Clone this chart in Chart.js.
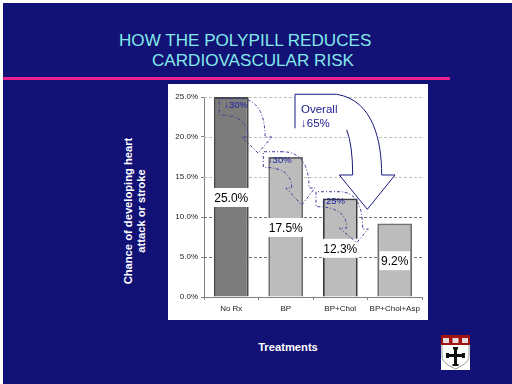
<!DOCTYPE html>
<html>
<head>
<meta charset="utf-8">
<script src="https://cdn.jsdelivr.net/npm/chart.js@4"></script>
<style>
  html, body { margin: 0; padding: 0; background: #fff; overflow: hidden; }
  #slide { position: absolute; left: 3px; top: 3px; width: 509px; height: 381px; background: #121276; }
  .txt { position: absolute; font-family: "Liberation Sans", Arial, sans-serif; white-space: nowrap; }
  .head { color: #84e8ea; font-size: 17.1px; line-height: 20px; }
  .axis { color: #fff; font-weight: bold; font-size: 11.2px; line-height: 13px; text-align: center; }
  #rule { position: absolute; left: 3px; top: 77px; width: 447px; height: 3px; background: #ec2090; }
  #panel { position: absolute; left: 168px; top: 84px; width: 260px; height: 236px; background: #fff; }
  #logo { position: absolute; left: 441px; top: 335px; }
</style>
</head>
<body>
<div id="slide"></div>
<div class="txt head" style="left:119px;top:31px">HOW THE POLYPILL REDUCES</div>
<div class="txt head" style="left:152px;top:51px">CARDIOVASCULAR RISK</div>
<div id="rule"></div>
<div id="panel"><canvas id="grafico" width="260" height="236"></canvas></div>
<div class="txt axis" style="left:135px;top:211px;transform:translate(-50%,-50%) rotate(-90deg)">Chance of developing heart<br>attack or stroke</div>
<div class="txt axis" style="left:288px;top:347px;transform:translate(-50%,-50%)">Treatments</div>
<svg id="logo" width="29" height="35" viewBox="0 0 29 35">
  <rect width="29" height="35" fill="#fff"/>
  <path d="M1 10V21C1 28 9 31 14.5 34C20 31 28 28 28 21V10" fill="none" stroke="#999"/>
  <rect width="29" height="10" fill="#a01414"/>
  <rect x="2" y="3" width="6" height="5" fill="#e6dcdc"/><rect x="11.5" y="3" width="6" height="5" fill="#e6dcdc"/><rect x="21" y="3" width="6" height="5" fill="#e6dcdc"/>
  <path d="M13 14H16V19H21V18H24V23H21V22H16V29H17.500V31H11.500V29H13V22H8V23H5V18H8V19H13Z" fill="#111"/>
  <rect x="12" y="12" width="5" height="2.500" fill="#111"/>
</svg>
<script>
// valores
const categorias = ["No Rx", "BP", "BP+Chol", "BP+Chol+Asp"];
const risco = [25.0, 17.5, 12.3, 9.2];
const rotulos = ["25.0%", "17.5%", "12.3%", "9.2%"];
const coresBarra = ["#7c7c7c", "#bcbcbc", "#bcbcbc", "#bcbcbc"];
const bordasBarra = ["#4a4a4a", "#707070", "#3a3a3a", "#707070"];
const reducoes = ["↓30%", "↓30%", "↓25%"];

// setas em unidades do grafico: [categoria, valor]
const setaGrande = {
  a: [1.17, 21.09], b: [1.17, 25.34], c: [1.935, 25.34],
  c1: [2.6, 24.6], c2: [2.76, 19.6], d: [2.76, 15.25],
  e: [3.005, 15.25], tip: [2.496, 10.96], f: [1.983, 15.25],
  g: [2.228, 15.25], c3: [2.228, 19], h: [2.118, 20.9]
};
const setasPequenas = [
  [[-0.22, 24.84], [-0.22, 22.75], [0.307, 22.75], [0.307, 20], [0.197, 20], [0.49, 18], [0.748, 20], [0.62, 20], [0.62, 24.6], [0.16, 24.84]],
  [[0.588, 18.16], [0.588, 16.21], [1.109, 16.21], [1.109, 13.63], [1.005, 13.63], [1.293, 11.5], [1.537, 13.63], [1.427, 13.63], [1.427, 18.1], [0.95, 18.16]],
  [[1.555, 13.16], [1.555, 11.29], [2.118, 11.29], [2.118, 8.63], [1.983, 8.63], [2.302, 6.79], [2.515, 8.5], [2.412, 8.5], [2.412, 13.1], [1.995, 13.16]]
];
const posReducao = [[0.09, 23.9], [0.89, 17.1], [1.87, 12]];

const anotacoes = {
  id: "anotacoes",
  afterDatasetsDraw(chart) {
    const ctx = chart.ctx;
    const px = p => [chart.scales.x.getPixelForValue(p[0]), chart.scales.y.getPixelForValue(p[1])];
    const fonte = '"Liberation Sans", Arial, sans-serif';
    ctx.save();

    // seta grande
    const s = setaGrande;
    const desenha = fechado => {
      ctx.beginPath();
      ctx.moveTo(...px(s.a));
      ctx.lineTo(...px(s.b));
      ctx.lineTo(...px(s.c));
      ctx.bezierCurveTo(...px(s.c1), ...px(s.c2), ...px(s.d));
      ctx.lineTo(...px(s.e));
      ctx.lineTo(...px(s.tip));
      ctx.lineTo(...px(s.f));
      ctx.lineTo(...px(s.g));
      ctx.quadraticCurveTo(...px(s.c3), ...px(s.h));
      if (fechado) ctx.closePath();
    };

    // rotulos das barras
    ctx.font = "12px " + fonte;
    ctx.textAlign = "center";
    ctx.textBaseline = "middle";
    risco.forEach((v, i) => {
      const [x, y] = px([i, v / 2]);
      const w = ctx.measureText(rotulos[i]).width + 3;
      ctx.fillStyle = "#fff";
      ctx.fillRect(x - w / 2, y - 9, w, 19);
    });

    desenha(true);
    ctx.fillStyle = "#fff";
    ctx.fill();
    desenha(false);
    ctx.strokeStyle = "#1a1a80";
    ctx.lineWidth = 1;
    ctx.stroke();

    ctx.fillStyle = "#000";
    risco.forEach((v, i) => {
      const [x, y] = px([i, v / 2]);
      ctx.fillText(rotulos[i], x, y + 1.5);
    });

    // setas tracejadas
    ctx.setLineDash([3, 2, 1, 2]);
    ctx.strokeStyle = "#3a3a9a";
    setasPequenas.forEach(p => {
      ctx.beginPath();
      ctx.moveTo(...px(p[9]));
      ctx.lineTo(...px(p[0]));
      ctx.lineTo(...px(p[1]));
      ctx.quadraticCurveTo(...px(p[2]), ...px(p[3]));
      ctx.lineTo(...px(p[4]));
      ctx.lineTo(...px(p[5]));
      ctx.lineTo(...px(p[6]));
      ctx.lineTo(...px(p[7]));
      ctx.quadraticCurveTo(...px(p[8]), ...px(p[9]));
      ctx.stroke();
    });
    ctx.setLineDash([]);

    ctx.font = "9.5px " + fonte;
    ctx.fillStyle = "#2020a0";
    reducoes.forEach((t, i) => {
      const [x, y] = px(posReducao[i]);
      ctx.fillText(t, x, y);
    });

    ctx.font = "11.5px " + fonte;
    ctx.textAlign = "left";
    ctx.fillStyle = "#1a1a90";
    const [ox, oy] = px([1.28, 23.4]);
    ctx.fillText("Overall", ox, oy);
    ctx.fillText("↓65%", ox, oy + 14);
    ctx.restore();
  }
};

new Chart(document.getElementById("grafico").getContext("2d"), {
  type: "bar",
  data: {
    labels: categorias,
    datasets: [{
      data: risco,
      backgroundColor: coresBarra,
      borderColor: bordasBarra,
      borderWidth: 2,
      categoryPercentage: 1,
      barPercentage: 0.64
    }]
  },
  options: {
    responsive: false,
    animation: false,
    layout: { padding: { top: 13, right: 6, bottom: 0, left: 0 } },
    plugins: { legend: { display: false }, tooltip: { enabled: false } },
    scales: {
      x: {
        afterFit: s => { s.height = 23; },
        border: { color: "#808080" },
        grid: { drawOnChartArea: false, color: "#808080", tickLength: 3 },
        ticks: { color: "#222", font: { family: "Liberation Sans", size: 8 }, padding: 4, maxRotation: 0, autoSkip: false }
      },
      y: {
        min: 0,
        max: 25,
        afterFit: s => { s.width = 36; },
        border: { color: "#808080" },
        grid: {
          color: c => (c.tick.value === 5 || c.tick.value === 10) ? "#707070" : "#c0c0c0",
          tickColor: "#808080",
          tickLength: 3
        },
        ticks: {
          stepSize: 5,
          color: "#222",
          font: { family: "Liberation Sans", size: 8 },
          padding: 3,
          callback: v => v.toFixed(1) + "%"
        }
      }
    }
  },
  plugins: [anotacoes, {
    id: "grade",
    beforeDatasetsDraw(chart) {
      // linhas tracejadas da grade
      const { ctx, scales: { y }, chartArea: a } = chart;
      ctx.save();
      ctx.fillStyle = "#fff";
      ctx.fillRect(a.left + 1, a.top - 1, a.width, a.height);
      ctx.setLineDash([3, 2]);
      y.ticks.forEach(t => {
        if (t.value === 0) return;
        const yy = Math.round(y.getPixelForValue(t.value)) + 0.5;
        ctx.strokeStyle = (t.value === 5 || t.value === 10) ? "#707070" : "#c0c0c0";
        ctx.beginPath();
        ctx.moveTo(a.left, yy);
        ctx.lineTo(a.right, yy);
        ctx.stroke();
      });
      ctx.restore();
    }
  }]
});
</script>
</body>
</html>
